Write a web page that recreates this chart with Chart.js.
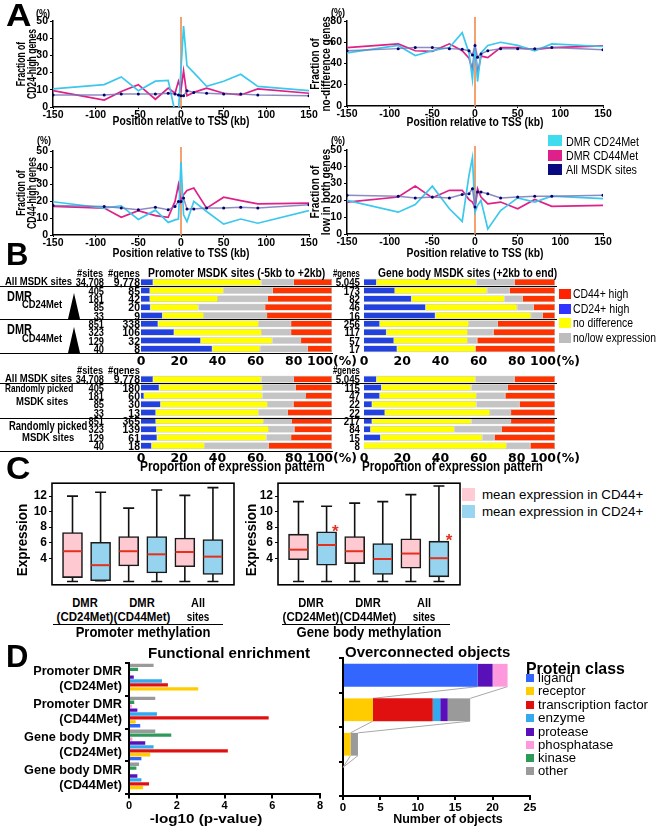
<!DOCTYPE html>
<html>
<head>
<meta charset="utf-8">
<script src="https://cdn.jsdelivr.net/npm/chart.js@4.4.1/dist/chart.umd.min.js"></script>
<style>
  body { margin: 0; background: #fff; }
  #fig { position: relative; width: 658px; height: 829px; overflow: hidden; background: #fff;
         font-family: 'Liberation Sans', Arial, sans-serif; color: #000; }
  #fig canvas { position: absolute; }
  .t { position: absolute; white-space: pre; }
</style>
</head>
<body>
<div id="fig"></div>
<script>
// ---------------- Panel A : fraction of genes vs position to TSS ----------------
const tssPos = [-150, -90, -70, -50, -30, -15, -7, -3, 0, 3, 7, 15, 30, 50, 70, 90, 150];

const cd24High_dmr24 = [10.5, 13, 17.5, 9.5, 15, 15.5, -3, -3, 22, 47, 24, 20, 12, 15, 19, 12, 9.5];
const cd24High_dmr44 = [9.5, 4, 9, 13, 4.5, 11, 8, 15, 10, 21, 6.5, 8.5, 11, 8, 7, 10.5, 8];
const cd24High_all   = [7, 7, 7.5, 7.5, 7.5, 8, 7.5, 7, 6.5, 6.5, 9.5, 8.5, 8, 7.5, 7.5, 7, 6.5];

const noDiff_dmr24 = [50, 57, 47.5, 52, 55, 69, 50, 25, 57, 23, 50, 57, 60, 57, 52, 58.5, 56];
const noDiff_dmr44 = [55, 58.5, 52, 51.5, 58.5, 52, 45, 34, 57, 30, 47, 45.5, 55, 55, 53, 55, 56.5];
const noDiff_all   = [52, 54, 55, 55, 54, 53.5, 52, 48, 57, 46, 49, 52, 54, 54, 54, 55, 53];

const cd44High_dmr24 = [19.8, 16, 17.4, 9.3, 14.8, 7.5, 9, 9.5, 43.5, 12, 8, 20, 14, 6.5, 9.5, 7, 14.5];
const cd44High_dmr44 = [17, 16, 10.5, 14.5, 11.5, 10.5, 20, 30, 20, 24, 26.5, 28, 16, 22.5, 20.5, 18.5, 19];
const cd44High_all   = [17.5, 17, 16, 15, 16.5, 15, 17, 20, 20, 22, 15.5, 15.5, 16, 16, 16.5, 16, 18];

const lowBoth_dmr24 = [20, 13, 17.5, 28.5, 15, 7.5, 35, 45.5, 13, 17, 20, 3, 14, 21.5, 19, 22.5, 21];
const lowBoth_dmr44 = [19, 22, 28.5, 21.5, 26, 26, 20.5, 19, 16, 27, 22, 18, 19, 15, 20.5, 16.5, 17];
const lowBoth_all   = [23, 22.5, 21.5, 22, 21.5, 23.5, 24, 27, 16, 25, 25, 24, 21.5, 22, 22.5, 22.5, 23];

// ---------------- Panel B : expression pattern proportions ----------------
// each row: [CD24+ high, no difference, no/low expression, CD44+ high]
const patterns = ['CD24+ high', 'no difference', 'no/low expression', 'CD44+ high'];
const siteCounts = ['34,708', '405', '181', '85', '33', '851', '323', '129', '40'];
const genesPromDmr = ['9,778', '85', '42', '20', '9', '338', '106', '32', '8'];
const genesBodyDmr = ['5,045', '173', '82', '46', '16', '256', '117', '57', '17'];
const genesPromRnd = ['9,778', '180', '60', '30', '13', '365', '139', '61', '18'];
const genesBodyRnd = ['5,045', '115', '47', '22', '22', '217', '84', '15', '8'];

const promoterDmr = [
  [6.4, 56.6, 17, 20], [4.7, 38.6, 25.7, 31], [4.7, 35.6, 26.1, 33.6], [5, 25, 35, 35], [11.3, 21.7, 33, 34],
  [9, 52.7, 16.9, 21.4], [17.4, 45.9, 15.3, 21.4], [31.3, 37.4, 15.1, 16.2], [37.4, 25, 24.9, 12.7]];
const geneBodyDmr = [
  [6.6, 52.2, 20, 21.2], [16.2, 48.3, 11.7, 23.8], [24.9, 48.7, 9.5, 16.9], [32.3, 47.9, 8.7, 11.1], [37.4, 50.1, 6.1, 6.4],
  [8.3, 46.7, 15, 30], [11.8, 42.6, 13.4, 32.2], [15.7, 38.7, 4.9, 40.7], [17.4, 41, 0, 41.6]];
const promoterRnd = [
  [6.4, 56.6, 17, 20], [9.6, 54.2, 17.1, 19.1], [1.6, 61.9, 22.9, 13.6], [10.3, 56.1, 13.4, 20.2], [7.8, 53.8, 15.3, 23.1],
  [7.8, 56.5, 14.7, 21], [8.2, 58.8, 13.3, 19.7], [8.5, 57.1, 13, 21.4], [5.6, 27.8, 33.4, 33.2]];
const geneBodyRnd = [
  [6.6, 51.8, 20.4, 21.2], [9.2, 47, 19.1, 24.7], [8.3, 50.8, 14.9, 26], [4.3, 54.5, 22.6, 18.6], [11, 55, 11, 23],
  [4.3, 51.9, 20.8, 23], [3.5, 44, 24.7, 27.8], [8.7, 53.2, 6.4, 31.7], [0, 74.8, 12.3, 12.9]];

// ---------------- Panel C : expression box plots ----------------
// order: DMR(CD24Met) CD44+, CD24+, DMR(CD44Met) CD44+, CD24+, All sites CD44+, CD24+
const promLow = [1.0, 1.1, 1.0, 1.0, 1.0, 1.0];
const promQ1  = [1.5, 1.1, 3.0, 2.1, 2.9, 1.9];
const promMed = [4.9, 3.1, 4.9, 4.5, 4.8, 4.2];
const promQ3  = [7.3, 6.05, 6.8, 6.8, 6.6, 6.4];
const promHigh = [12.0, 12.5, 10.45, 12.8, 12.1, 13.1];

const bodyLow = [1.0, 1.0, 1.0, 1.0, 1.0, 1.0];
const bodyQ1  = [3.8, 3.1, 3.3, 1.9, 2.7, 1.6];
const bodyMed = [5.1, 5.7, 4.9, 3.9, 4.6, 4.0];
const bodyQ3  = [7.1, 7.4, 6.8, 5.9, 6.5, 6.2];
const bodyHigh = [11.3, 10.7, 11.1, 11.3, 12.2, 13.3];
const bodyStars = [[2.31, 7.75], [6.36, 6.6]];

// ---------------- Panel D : protein classes ----------------
const dGroups = [['Promoter DMR', '(CD24Met)'], ['Promoter DMR', '(CD44Met)'], ['Gene body DMR', '(CD24Met)'], ['Gene body DMR', '(CD44Met)']];
const proteinClasses = ['ligand', 'receptor', 'transcription factor', 'enzyme', 'protease', 'phosphatase', 'kinase', 'other'];
// -log10(p) per class, per group
const enrichLigand   = [0, 0.47, 0.52, 0];
const enrichReceptor = [2.9, 0.28, 0.89, 0.59];
const enrichTF       = [1.63, 5.85, 4.14, 0.84];
const enrichEnzyme   = [1.38, 1.17, 1.03, 0.52];
const enrichProtease = [0.2, 0.35, 0.68, 0.35];
const enrichPhosph   = [0.05, 0.12, 0.14, 0];
const enrichKinase   = [0.38, 0.22, 1.77, 0.31];
const enrichOther    = [1.03, 1.1, 1.1, 0.42];
// overconnected objects counts per class, per group
const objLigand   = [18, 0, 0, 0];
const objReceptor = [0, 4, 1, 0];
const objTF       = [0, 8, 0, 0];
const objEnzyme   = [0, 1, 0, 0];
const objProtease = [2, 1, 0, 0];
const objPhosph   = [2, 0, 0, 0];
const objKinase   = [0, 0, 0, 0];
const objOther    = [0, 3, 1, 0];

// ---------------- setup ----------------
const FONT = "'Liberation Sans', Arial, sans-serif";
const WIDE = "'DejaVu Sans', 'Liberation Sans', sans-serif";
Chart.defaults.font.family = FONT;
Chart.defaults.color = '#000';
Chart.defaults.animation = false;
Chart.defaults.responsive = false;
Chart.defaults.maintainAspectRatio = false;
Chart.defaults.plugins.legend.display = false;
Chart.defaults.plugins.tooltip.enabled = false;

const fig = document.getElementById('fig');
const bold = (size, family) => family ? { weight: 'bold', size: size, family: family } : { weight: 'bold', size: size };

function mkCtx(left, top, w, h) {
  const c = document.createElement('canvas');
  c.width = w; c.height = h;
  c.style.left = left + 'px'; c.style.top = top + 'px';
  c.style.width = w + 'px'; c.style.height = h + 'px';
  fig.appendChild(c);
  return c.getContext('2d');
}

// text centred vertically on y; o.w squeezes/stretches it to a target width
function T(s, x, y, size, o = {}) {
  const d = document.createElement('div');
  d.className = 't';
  d.textContent = Array.isArray(s) ? s.join('\n') : s;
  d.style.fontSize = size + 'px';
  d.style.fontWeight = o.normal ? 'normal' : 'bold';
  d.style.lineHeight = (o.lh || size) + 'px';
  if (o.family) d.style.fontFamily = o.family;
  if (o.color) d.style.color = o.color;
  d.style.left = x + 'px';
  d.style.top = y + 'px';
  fig.appendChild(d);
  let k = o.sx || 1;
  if (o.w) k = o.w / d.offsetWidth;
  const a = o.align || 'l';
  if (o.rot) {
    d.style.textAlign = 'center';
    d.style.transform = 'translate(-50%,-50%) rotate(-90deg) scaleX(' + k + ')';
  } else {
    d.style.textAlign = a === 'c' ? 'center' : a === 'r' ? 'right' : 'left';
    const tx = a === 'c' ? '-50%' : a === 'r' ? '-100%' : '0';
    d.style.transformOrigin = (a === 'c' ? 'center' : a === 'r' ? 'right' : 'left') + ' center';
    d.style.transform = 'translate(' + tx + ',-50%) scaleX(' + k + ')';
  }
}
function R(x, y, w, h, color, extra) {
  const d = document.createElement('div');
  d.style.cssText = 'position:absolute;left:' + x + 'px;top:' + y + 'px;width:' + w + 'px;height:' + h + 'px;background:' + color + ';' + (extra || '');
  fig.appendChild(d);
}

// ---------------- Panel A charts ----------------
const tssLine = {
  id: 'tssLine',
  beforeDatasetsDraw(chart) {
    const { ctx, chartArea, scales: { x } } = chart;
    const px = x.getPixelForValue(0);
    ctx.save();
    ctx.strokeStyle = '#f08a4b';
    ctx.lineWidth = 1.6;
    ctx.beginPath();
    ctx.moveTo(px, chartArea.top - 4);
    ctx.lineTo(px, chartArea.bottom);
    ctx.stroke();
    ctx.restore();
  }
};

function tssChart(left, top, h, ymax, d24, d44, dAll) {
  const pts = (arr) => tssPos.map((x, i) => ({ x: x, y: arr[i] }));
  new Chart(mkCtx(left, top, 323, h), {
    type: 'line',
    data: {
      datasets: [
        { label: 'All MSDK sites', data: pts(dAll), borderColor: 'rgba(120,120,185,0.85)', borderWidth: 1.5,
          pointRadius: 1.5, pointBackgroundColor: '#00006e', pointBorderWidth: 0 },
        { label: 'DMR CD24Met', data: pts(d24), borderColor: '#3cc8ec', borderWidth: 1.7, pointRadius: 0 },
        { label: 'DMR CD44Met', data: pts(d44), borderColor: '#df2088', borderWidth: 1.7, pointRadius: 0 }
      ]
    },
    options: {
      layout: { padding: { top: 21, right: 14, left: 0, bottom: 0 } },
      scales: {
        x: {
          type: 'linear', min: -150, max: 150,
          ticks: { stepSize: 50, font: bold(10.5), padding: 0, maxRotation: 0, autoSkip: false },
          grid: { drawOnChartArea: false, tickLength: 2, color: '#000' },
          border: { color: '#000', width: 1.5 },
          afterFit(s) { s.height = 14; }
        },
        y: {
          min: 0, max: ymax,
          ticks: { stepSize: 10, font: bold(10.5), padding: 2 },
          grid: { drawOnChartArea: false, tickLength: 3, color: '#000' },
          border: { color: '#000', width: 1.5 },
          afterFit(s) { s.width = 53; }
        }
      }
    },
    plugins: [tssLine]
  });
}

tssChart(0, 0, 121, 50, cd24High_dmr24, cd24High_dmr44, cd24High_all);
tssChart(294, 0, 120, 80, noDiff_dmr24, noDiff_dmr44, noDiff_all);
tssChart(0, 130, 119, 50, cd44High_dmr24, cd44High_dmr44, cd44High_all);
tssChart(294, 129, 119, 50, lowBoth_dmr24, lowBoth_dmr44, lowBoth_all);

// ---------------- Panel B charts ----------------
const patternColors = ['#2242e0', '#ffff00', '#c4c4c4', '#ff3300'];

function stackChart(left, top, rows, labels) {
  new Chart(mkCtx(left, top, 237, 98), {
    type: 'bar',
    data: {
      labels: labels,
      datasets: patterns.map((p, k) => ({
        label: p,
        data: rows.map(r => r[k]),
        backgroundColor: patternColors[k],
        borderColor: 'rgba(90,90,90,0.6)',
        borderWidth: 0.6,
        barPercentage: 0.8,
        categoryPercentage: 1
      }))
    },
    options: {
      indexAxis: 'y',
      layout: { padding: { top: 8, right: 25, left: 20, bottom: 0 } },
      scales: {
        x: {
          stacked: true, min: 0, max: 100,
          ticks: { stepSize: 20, font: bold(12.5, WIDE), padding: 1, autoSkip: false, maxRotation: 0,
                   callback: (v) => v === 100 ? '100(%)' : v },
          grid: { display: false, drawTicks: false },
          border: { display: false },
          afterFit(s) { s.height = 15; }
        },
        y: { stacked: true, display: false }
      }
    }
  });
}

stackChart(121, 270, promoterDmr, siteCounts);
stackChart(344, 270, geneBodyDmr, siteCounts);
stackChart(121, 367, promoterRnd, siteCounts);
stackChart(344, 367, geneBodyRnd, siteCounts);

// ---------------- Panel C charts ----------------
const boxWhiskers = {
  id: 'boxWhiskers',
  beforeDatasetsDraw(chart, args, o) {
    const { ctx, scales: { x, y } } = chart;
    ctx.save();
    ctx.strokeStyle = '#111';
    ctx.lineWidth = 1.6;
    o.pos.forEach((p, i) => {
      const px = x.getPixelForValue(p);
      const top = y.getPixelForValue(o.high[i]);
      const bot = y.getPixelForValue(o.low[i]);
      ctx.beginPath();
      ctx.moveTo(px, top); ctx.lineTo(px, bot);
      ctx.moveTo(px - 5.5, top); ctx.lineTo(px + 5.5, top);
      ctx.moveTo(px - 5.5, bot); ctx.lineTo(px + 5.5, bot);
      ctx.stroke();
    });
    ctx.restore();
  },
  afterDatasetsDraw(chart, args, o) {
    const { ctx, scales: { x, y } } = chart;
    ctx.save();
    ctx.strokeStyle = '#e2321e';
    ctx.lineWidth = 2;
    o.pos.forEach((p, i) => {
      const px = x.getPixelForValue(p);
      const py = y.getPixelForValue(o.med[i]);
      ctx.beginPath();
      ctx.moveTo(px - 9.3, py); ctx.lineTo(px + 9.3, py);
      ctx.stroke();
    });
    ctx.fillStyle = '#e2321e';
    ctx.font = 'bold 17px ' + FONT;
    ctx.textAlign = 'center';
    ctx.textBaseline = 'middle';
    (o.stars || []).forEach(s => {
      ctx.fillText('*', x.getPixelForValue(s[0]), y.getPixelForValue(s[1]) + 3);
    });
    ctx.restore();
  }
};
const frame = {
  id: 'frame',
  afterDraw(chart) {
    const { ctx, chartArea: a } = chart;
    ctx.save();
    ctx.strokeStyle = '#000';
    ctx.lineWidth = 1.6;
    ctx.strokeRect(a.left, a.top, a.right - a.left, a.bottom - a.top);
    ctx.restore();
  }
};

function boxChart(left, low, q1, med, q3, high, stars) {
  const pos = [1, 2, 3, 4, 5, 6];
  const pick = (k) => pos.filter((p, i) => i % 2 === k).map(p => ({ x: p, y: [q1[p - 1], q3[p - 1]] }));
  const boxStyle = { borderColor: '#1a1a1a', borderWidth: 1.6, borderSkipped: false, grouped: false, barThickness: 20 };
  new Chart(mkCtx(left, 474, 228, 120), {
    type: 'bar',
    data: {
      datasets: [
        Object.assign({ label: 'mean expression in CD44+', data: pick(0), backgroundColor: '#ffc9d2' }, boxStyle),
        Object.assign({ label: 'mean expression in CD24+', data: pick(1), backgroundColor: '#95d3ef' }, boxStyle)
      ]
    },
    options: {
      layout: { padding: { top: 8, right: 4, left: 0, bottom: 2 } },
      scales: {
        x: { type: 'linear', display: false, offset: false, min: 0.27, max: 6.75 },
        y: {
          min: 0.57, max: 13.67,
          ticks: { stepSize: 2, font: bold(12), padding: 2 },
          afterBuildTicks(s) { s.ticks = s.ticks.filter(t => t.value >= 2 && t.value <= 12 && Math.abs(t.value % 2) < 1e-6); },
          grid: { drawOnChartArea: false, tickLength: 3, color: '#000' },
          border: { display: false },
          afterFit(s) { s.width = 42; }
        }
      },
      plugins: { boxWhiskers: { pos: pos, low: low, high: high, med: med, stars: stars } }
    },
    plugins: [boxWhiskers, frame]
  });
}

boxChart(10, promLow, promQ1, promMed, promQ3, promHigh, []);
boxChart(236, bodyLow, bodyQ1, bodyMed, bodyQ3, bodyHigh, bodyStars);

// ---------------- Panel D charts ----------------
const classColors = ['#3366ff', '#ffcc00', '#e01010', '#33aaee', '#5a10b8', '#ff99dd', '#2e9a5a', '#9a9a9a'];
const enrichSeries = [enrichLigand, enrichReceptor, enrichTF, enrichEnzyme, enrichProtease, enrichPhosph, enrichKinase, enrichOther];
const objSeries = [objLigand, objReceptor, objTF, objEnzyme, objProtease, objPhosph, objKinase, objOther];

// enrichment: drawn top-to-bottom from "other" down to "ligand"
new Chart(mkCtx(0, 645, 328, 167), {
  type: 'bar',
  data: {
    labels: dGroups,
    datasets: proteinClasses.map((c, k) => ({
      label: c, data: enrichSeries[k], backgroundColor: classColors[k],
      barPercentage: 0.85, categoryPercentage: 0.95
    })).reverse()
  },
  options: {
    indexAxis: 'y',
    layout: { padding: { top: 16, right: 8, left: 0, bottom: 0 } },
    scales: {
      x: {
        min: 0, max: 8,
        ticks: { stepSize: 2, font: bold(11), padding: 1 },
        grid: { drawOnChartArea: false, tickLength: 4, color: '#000', lineWidth: 2 },
        border: { color: '#000', width: 2 },
        afterFit(s) { s.height = 15; }
      },
      y: {
        ticks: { font: Object.assign(bold(12.7), { lineHeight: 1.15 }), padding: 3, autoSkip: false },
        grid: { offset: true, drawOnChartArea: false, tickLength: 4, color: '#000', lineWidth: 2 },
        border: { color: '#000', width: 2 },
        afterFit(s) { s.width = 129; }
      }
    }
  }
});

const fanLines = {
  id: 'fanLines',
  beforeDatasetsDraw(chart) {
    const { ctx, scales: { x, y } } = chart;
    const ds = chart.data.datasets;
    const n = chart.data.labels.length;
    const half = chart.getDatasetMeta(0).data[0].height / 2;
    const stats = [];
    for (let i = 0; i < n; i++) {
      const vals = ds.map(d => d.data[i]);
      const total = vals.reduce((a, b) => a + b, 0);
      const first = vals.find(v => v > 0) || 0;
      stats.push([first, total]);
    }
    ctx.save();
    ctx.strokeStyle = '#a8a8a8';
    ctx.lineWidth = 1;
    for (let i = 0; i < n - 1; i++) {
      const yb = y.getPixelForValue(i) + half;
      const yt = y.getPixelForValue(i + 1) - half;
      stats[i].forEach((v, j) => {
        ctx.beginPath();
        ctx.moveTo(x.getPixelForValue(v), yb);
        ctx.lineTo(x.getPixelForValue(stats[i + 1][j]), yt);
        ctx.stroke();
      });
    }
    ctx.restore();
  }
};

new Chart(mkCtx(331, 645, 209, 166), {
  type: 'bar',
  data: {
    labels: dGroups,
    datasets: proteinClasses.map((c, k) => ({
      label: c, data: objSeries[k], backgroundColor: classColors[k],
      barPercentage: 0.66, categoryPercentage: 1
    }))
  },
  options: {
    indexAxis: 'y',
    layout: { padding: { top: 13, right: 10, left: 0, bottom: 0 } },
    scales: {
      x: {
        stacked: true, min: 0, max: 25,
        ticks: { stepSize: 5, font: bold(11.5), padding: 1 },
        grid: { drawOnChartArea: false, tickLength: 4, color: '#000', lineWidth: 2 },
        border: { color: '#000', width: 2 },
        afterFit(s) { s.height = 15; }
      },
      y: {
        stacked: true,
        ticks: { display: false },
        grid: { offset: true, drawOnChartArea: false, tickLength: 4, color: '#000', lineWidth: 2 },
        border: { color: '#000', width: 2 },
        afterFit(s) { s.width = 12; }
      }
    }
  },
  plugins: [fanLines]
});

// ---------------- texts ----------------
T('A', 6, 15, 31, { w: 25 });
T('B', 6, 254, 31, { w: 22 });
T('C', 6, 468, 31, { w: 24 });
T('D', 6, 656, 31, { w: 22 });

// panel A
T('(%)', 36, 12.5, 11, { w: 14 });
T('(%)', 331, 12, 11, { w: 14 });
T('(%)', 37, 139.5, 11, { w: 14 });
T('(%)', 331, 140, 11, { w: 14 });
T(['Fraction of', 'CD24-high genes'], 26, 64, 12, { rot: true, lh: 10.5, w: 70 });
T(['Fraction of', 'no-difference genes'], 320, 63.5, 12, { rot: true, lh: 10.5, w: 95 });
T(['Fraction of', 'CD44-high genes'], 26, 193, 12, { rot: true, lh: 10.5, w: 72 });
T(['Fraction of', 'low in both genes'], 320, 192, 12, { rot: true, lh: 10.5, w: 86 });
T('Position relative to TSS (kb)', 181, 121, 12.5, { align: 'c', w: 137 });
T('Position relative to TSS (kb)', 475, 122, 12.5, { align: 'c', w: 137 });
T('Position relative to TSS (kb)', 181, 253, 12.5, { align: 'c', w: 137 });
T('Position relative to TSS (kb)', 475, 253, 12.5, { align: 'c', w: 137 });
const aLegend = [['DMR CD24Met', '#3fdcf0', 73], ['DMR CD44Met', '#e0208a', 72], ['All MSDK sites', '#0a0a80', 71]];
aLegend.forEach((e, i) => {
  const cy = [140.5, 155, 169][i];
  R(548, cy - 5.5, 14, 11, e[1]);
  T(e[0], 566, cy, 13, { normal: true, w: e[2] });
});

// panel B
function blockText(top, genesProm, genesBody) {
  const head = top + 3;
  T('#sites', 77, head, 11, { w: 26 });
  T('#genes', 108, head, 11, { w: 32 });
  T('#genes', 333, head, 11, { w: 27 });
  const rowY = (i) => top + 12.3 + i * 8.33;
  siteCounts.forEach((s, i) => {
    T(s, 104, rowY(i), 11, { align: 'r', lh: 9, sx: 0.84 });
    T(genesProm[i], 139.5, rowY(i), 11, { align: 'r', lh: 9, sx: 0.95 });
    T(genesBody[i], 359.5, rowY(i), 11, { align: 'r', lh: 9, sx: 0.88 });
  });
  T('All MSDK sites', 5, rowY(0), 11.5, { w: 67 });
}
T('Promoter MSDK sites (-5kb to +2kb)', 148, 272, 13, { w: 177 });
T('Gene body MSDK sites (+2kb to end)', 378, 272, 13, { w: 179 });
blockText(270, genesPromDmr, genesBodyDmr);
blockText(367, genesPromRnd, genesBodyRnd);
T('DMR', 7, 295.5, 14, { w: 25 });
T('CD24Met', 22, 305, 11.5, { w: 40 });
T('DMR', 7, 329, 14, { w: 25 });
T('CD44Met', 22, 338.5, 11.5, { w: 40 });
R(68, 293, 12, 26, '#000', 'clip-path:polygon(50% 0,100% 100%,0 100%);');
R(68, 327, 12, 26, '#000', 'clip-path:polygon(50% 0,100% 100%,0 100%);');
T('Randomly picked', 5, 388.5, 11.5, { w: 68 });
T('MSDK sites', 16, 401.5, 11.5, { w: 52 });
T('Randomly picked', 9, 426, 12, { w: 78 });
T('MSDK sites', 22, 437.5, 11.5, { w: 52 });
T('Proportion of expression pattern', 140, 466, 14, { w: 185 });
T('Proportion of expression pattern', 362, 466, 14, { w: 181 });
// separator rules
R(0, 286, 557, 1.2, '#000');
R(0, 319.3, 557, 1.2, '#000');
R(0, 352.5, 333, 1.2, '#000');
R(0, 383, 557, 1.2, '#000');
R(0, 417.8, 557, 1.2, '#000');
R(0, 450.5, 333, 1.2, '#000');
// legend B
const bLegend = [['CD44+ high', '#ff2200', 55], ['CD24+ high', '#3333ff', 56], ['no difference', '#ffff00', 60], ['no/low expression', '#bdbdbd', 83]];
bLegend.forEach((e, i) => {
  const cy = [294, 308.5, 322.5, 337.5][i];
  R(559, cy - 5, 12, 10, e[1]);
  T(e[0], 573, cy, 12.5, { normal: true, w: e[2] });
});

// panel C
T('Expression', 22, 540, 14, { rot: true, w: 72 });
T('Expression', 251, 540, 14, { rot: true, w: 72 });
[[85, 'DMR', '(CD24Met)'], [142, 'DMR', '(CD44Met)'], [198.3, 'All', 'sites'],
 [311, 'DMR', '(CD24Met)'], [368, 'DMR', '(CD44Met)'], [424, 'All', 'sites']].forEach(g => {
  const w2 = g[1] === 'All' ? 23 : 57;
  T(g[1], g[0], 603, 12.5, { align: 'c', w: g[1] === 'All' ? 14 : 25 });
  T(g[2], g[0], 617, 12.5, { align: 'c', w: w2 });
});
R(53, 623.5, 170, 1.5, '#000');
R(282, 623.5, 168, 1.5, '#000');
T('Promoter methylation', 142.5, 632, 14, { align: 'c', w: 135 });
T('Gene body methylation', 369, 632, 14, { align: 'c', w: 145 });
R(462, 488, 13, 13, '#ffccd5');
R(462, 505, 13, 13, '#99d5f0');
T('mean expression in CD44+', 482, 494.5, 13.5, { normal: true, w: 161 });
T('mean expression in CD24+', 482, 511.5, 13.5, { normal: true, w: 161 });

// panel D
T('Functional enrichment', 229, 653, 15.5, { align: 'c', w: 162 });
T('Overconnected objects', 345, 652, 15.5, { w: 165 });
T('Protein class', 526, 668, 17, { w: 99 });
const dLegendW = [35, 48, 110, 47, 51, 75, 38, 30];
proteinClasses.forEach((c, k) => {
  const cy = [678, 691, 705, 718, 731.5, 744.5, 757.5, 770.5][k];
  R(526, cy - 4, 8, 8, classColors[k]);
  T(c, 538, cy, 13.5, { normal: true, w: dLegendW[k] });
});
T('-log10 (p-value)', 206, 819, 13.5, { align: 'c', w: 113 });
T('Number of objects', 448, 819, 13.5, { align: 'c', w: 110 });
</script>
</body>
</html>
